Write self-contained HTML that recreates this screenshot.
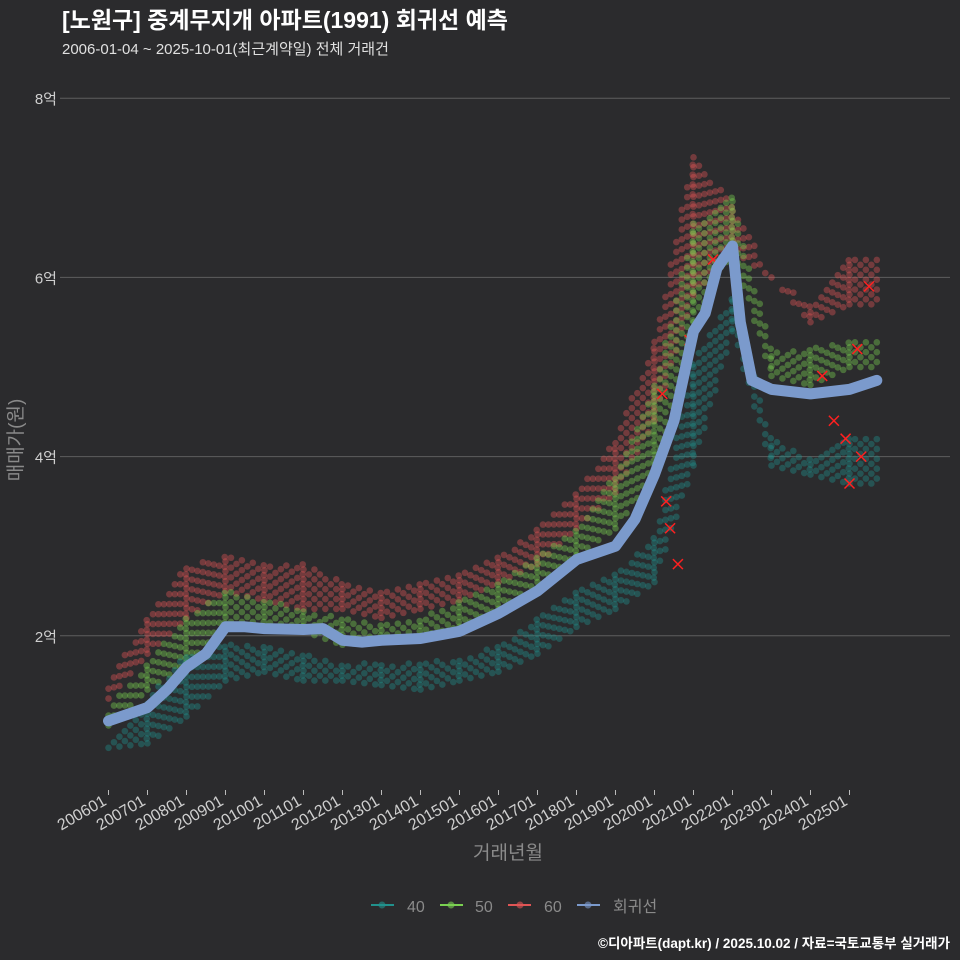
<!DOCTYPE html>
<html><head><meta charset="utf-8">
<style>
body{margin:0;background:#2b2b2d;}
svg{display:block;font-family:"Liberation Sans","Noto Sans CJK KR",sans-serif;}
</style></head>
<body>
<svg id="c" width="960" height="960" viewBox="0 0 960 960">
<rect width="960" height="960" fill="#2b2b2d"/>
<text x="62" y="28" fill="#ffffff" font-size="23" font-weight="bold">[노원구] 중계무지개 아파트(1991) 회귀선 예측</text>
<text x="62" y="54" fill="#e0e0e0" font-size="15">2006-01-04 ~ 2025-10-01(최근계약일) 전체 거래건</text>
<g id="grid"></g>
<g id="pts"></g>
<g id="xs"></g>
<path id="reg" fill="none" stroke="#7b9acc" stroke-width="11" stroke-linecap="round" stroke-linejoin="round"/>
<g id="xax"></g>
<text transform="translate(22,440) rotate(-90)" text-anchor="middle" fill="#8a8a8a" font-size="19">매매가(원)</text>
<text x="508" y="859" text-anchor="middle" fill="#8a8a8a" font-size="19">거래년월</text>
<g>
<g><line x1="371" y1="905" x2="394" y2="905" stroke="#21918c" stroke-width="2"/><circle cx="382" cy="905" r="3.5" fill="#21918c" opacity="0.6"/><text x="407" y="912" fill="#8a8a8a" font-size="16">40</text></g>
<g><line x1="440" y1="905" x2="463" y2="905" stroke="#7ad151" stroke-width="2"/><circle cx="451" cy="905" r="3.5" fill="#7ad151" opacity="0.6"/><text x="475" y="912" fill="#8a8a8a" font-size="16">50</text></g>
<g><line x1="508" y1="905" x2="531" y2="905" stroke="#e05555" stroke-width="2"/><circle cx="520" cy="905" r="3.5" fill="#e05555" opacity="0.6"/><text x="544" y="912" fill="#8a8a8a" font-size="16">60</text></g>
<g><line x1="577" y1="905" x2="600" y2="905" stroke="#7b9acc" stroke-width="2"/><circle cx="588" cy="905" r="3.5" fill="#7b9acc" opacity="0.6"/><text x="613" y="912" fill="#8a8a8a" font-size="16">회귀선</text></g>
</g>
<text x="950" y="948" text-anchor="end" fill="#ffffff" font-size="13.5" font-weight="bold">©디아파트(dapt.kr) / 2025.10.02 / 자료=국토교통부 실거래가</text>
</svg>
<script>
const yTicks=[2,4,6,8];
const xTickLabels=['200601','200701','200801','200901','201001','201101','201201','201301','201401','201501','201601','201701','201801','201901','202001','202101','202201','202301','202401','202501'];
const years=[2006,2007,2008,2009,2010,2011,2012,2013,2014,2015,2016,2017,2018,2019,2020,2021,2022,2023,2024,2025];
const low40=[0.75,0.8,1.1,1.5,1.6,1.5,1.5,1.45,1.4,1.5,1.6,1.8,2.1,2.3,2.6,3.9,5.4,3.9,3.8,3.7];
const high40=[0.85,1.3,1.8,1.9,1.9,1.8,1.7,1.7,1.7,1.75,1.9,2.2,2.5,2.7,3.1,5.1,5.8,4.2,4.0,4.2];
const low50=[1.0,1.4,1.7,2.1,2.1,2.05,1.9,1.95,2.0,2.1,2.3,2.6,2.9,3.2,3.8,5.5,6.3,4.9,4.8,5.0];
const high50=[1.2,1.7,2.2,2.5,2.4,2.3,2.2,2.15,2.2,2.4,2.6,2.9,3.2,3.8,4.8,6.6,6.9,5.2,5.2,5.3];
const low60=[1.3,1.8,2.2,2.5,2.4,2.3,2.3,2.2,2.3,2.4,2.6,2.8,3.2,3.6,4.4,5.8,6.3,6.0,5.5,5.7];
const high60=[1.5,2.2,2.8,2.9,2.8,2.8,2.6,2.5,2.6,2.7,2.9,3.2,3.6,4.2,5.3,7.4,6.8,6.0,5.7,6.2];
const regT=[2006,2007,2007.5,2008,2008.5,2009,2009.5,2010,2011,2011.5,2012,2012.5,2013,2014,2015,2016,2017,2018,2019,2019.5,2020,2020.5,2021,2021.3,2021.6,2022,2022.2,2022.5,2023,2024,2025,2025.7];
const regV=[1.05,1.2,1.4,1.65,1.8,2.1,2.1,2.08,2.07,2.08,1.95,1.93,1.95,1.97,2.05,2.25,2.5,2.85,3.0,3.3,3.8,4.4,5.4,5.6,6.1,6.35,5.5,4.85,4.75,4.7,4.75,4.85];
const markT=[2020.2,2020.3,2020.4,2020.6,2020.9,2021.5,2024.3,2024.6,2024.9,2025.0,2025.2,2025.3,2025.5];
const markV=[4.7,3.5,3.2,2.8,5.3,6.2,4.9,4.4,4.2,3.7,5.2,4.0,5.9];

const NS='http://www.w3.org/2000/svg';
const X=t=>108.5+(t-2006)*39;
const Y=v=>815-v*89.6;
function mk(tag,attrs,parent){const e=document.createElementNS(NS,tag);for(const k in attrs)e.setAttribute(k,attrs[k]);parent.appendChild(e);return e;}
const grid=document.getElementById('grid');
yTicks.forEach(v=>{
  const l=mk('line',{x1:60,x2:950,y1:Y(v),y2:Y(v),stroke:'#5e5e5e','stroke-width':1},grid);
  
  
  const t=mk('text',{x:57,y:Y(v)+6,'text-anchor':'end',fill:'#cfcfcf','font-size':15},grid);
  t.textContent=v+'억';
  
  
});
const xax=document.getElementById('xax');
xTickLabels.forEach((s,i)=>{
  const x=X(years[i]);
  const l=mk('line',{x1:x,x2:x,y1:790,y2:795,stroke:'#bbb'},xax);
  
  
  const t=mk('text',{transform:`translate(${x-1},${804}) rotate(-30)`,'text-anchor':'end',fill:'#cfcfcf','font-size':16},xax);
  t.textContent=s;
  
  
});
const pts=document.getElementById('pts');
function cloud(lo,hi,color,name){
  for(let i=0;i<years.length;i++){
    const endT=i<years.length-1?years[i+1]:2025.75;
    const lo2=i<years.length-1?lo[i+1]:lo[i],hi2=i<years.length-1?hi[i+1]:hi[i];
    let k=0;
    for(let t=years[i];t<endT;t+=0.14){
      const f=(t-years[i])/(endT-years[i]);
      const a=lo[i]+(lo2-lo[i])*f,b=hi[i]+(hi2-hi[i])*f;
      const st=0.11;
      for(let v=a+(k%2)*st/2;v<=b+0.001;v+=st){
        const c=mk('circle',{cx:X(t),cy:Y(v),r:3.3,fill:color,'fill-opacity':0.4},pts);
        
        
      }
      k++;
    }
  }
}
cloud(low60,high60,'#e05555','point-60');
cloud(low50,high50,'#7ad151','point-50');
cloud(low40,high40,'#21918c','point-40');
const xs=document.getElementById('xs');
markT.forEach((t,i)=>{
  const x=X(t),y=Y(markV[i]);
  const p=mk('path',{d:`M${x-5},${y-5}L${x+5},${y+5}M${x+5},${y-5}L${x-5},${y+5}`,stroke:'#ff2020','stroke-width':1.5},xs);
  
  
});
document.getElementById('reg').setAttribute('d',regT.map((t,i)=>(i?'L':'M')+X(t).toFixed(1)+','+Y(regV[i]).toFixed(1)).join(''));
</script>
</body></html>
